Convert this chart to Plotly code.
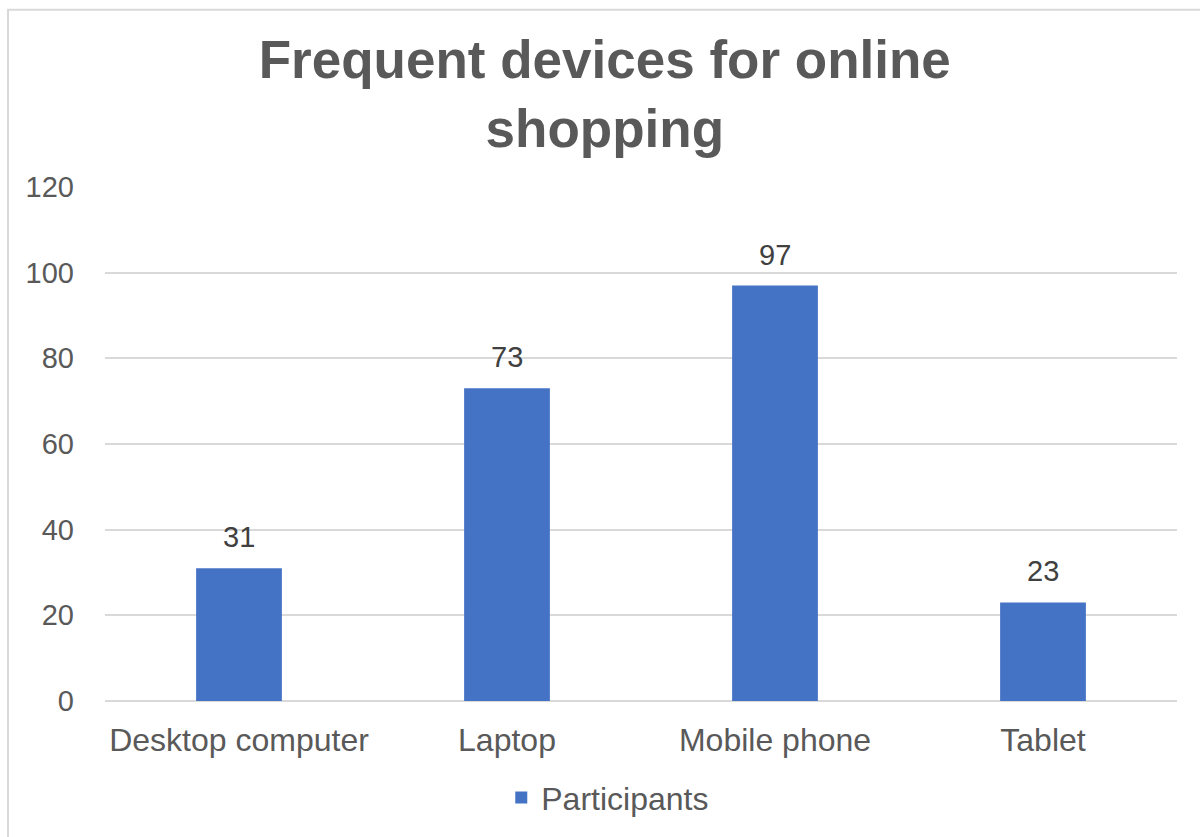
import plotly.graph_objects as go

categories = ["Desktop computer", "Laptop", "Mobile phone", "Tablet"]
participants = [31, 73, 97, 23]
series_name = "Participants"
title_text = "Frequent devices for online<br>shopping"
y_ticks = [0, 20, 40, 60, 80, 100, 120]

W, H = 1200, 837
ml, mr, mt, mb = 105, 23, 187, 134
pw, ph = W - ml - mr, H - mt - mb
FONT = "Liberation Sans, Arial"

fig = go.Figure()
fig.add_trace(go.Bar(
    x=categories, y=participants, name=series_name,
    marker=dict(color="#4472C4", line=dict(width=0)),
))

def px_x(x):
    return (x - ml) / pw

def px_y(y):
    return (H - mb - y) / ph

annotations = [
    dict(x=c, y=v, xref="x", yref="y", text=str(v), showarrow=False,
         yanchor="bottom", yshift=13,
         font=dict(size=29, color="#404040", family=FONT))
    for c, v in zip(categories, participants)
]

fig.update_layout(
    width=W, height=H,
    margin=dict(l=ml, r=mr, t=mt, b=mb),
    paper_bgcolor="white", plot_bgcolor="white",
    font=dict(family=FONT, color="#595959"),
    title=dict(text=title_text, x=0.504, xanchor="center", y=0.907, yanchor="middle",
               font=dict(size=53, color="#595959", family=FONT, weight="bold")),
    bargap=0.68,
    showlegend=True,
    legend=dict(orientation="h", x=0.469, xanchor="center", y=px_y(800), yanchor="middle",
                font=dict(size=32, color="#595959"), itemwidth=30),
    xaxis=dict(showline=False, ticks="", tickfont=dict(size=32, color="#595959"),
               showgrid=False, ticklabelstandoff=17),
    yaxis=dict(range=[0, 120], tickvals=y_ticks, showgrid=True, gridcolor="#D9D9D9",
               gridwidth=2, zeroline=True, zerolinecolor="#D9D9D9", zerolinewidth=2,
               tickfont=dict(size=29, color="#595959"), ticks="", ticklabelstandoff=30),
    annotations=annotations,
    shapes=[dict(type="rect", xref="paper", yref="paper",
                 x0=px_x(8), y0=px_y(H + 20), x1=px_x(W + 20), y1=px_y(9),
                 line=dict(color="#D9D9D9", width=2), fillcolor="rgba(0,0,0,0)", layer="below")],
)

fig.write_html("out.html")
